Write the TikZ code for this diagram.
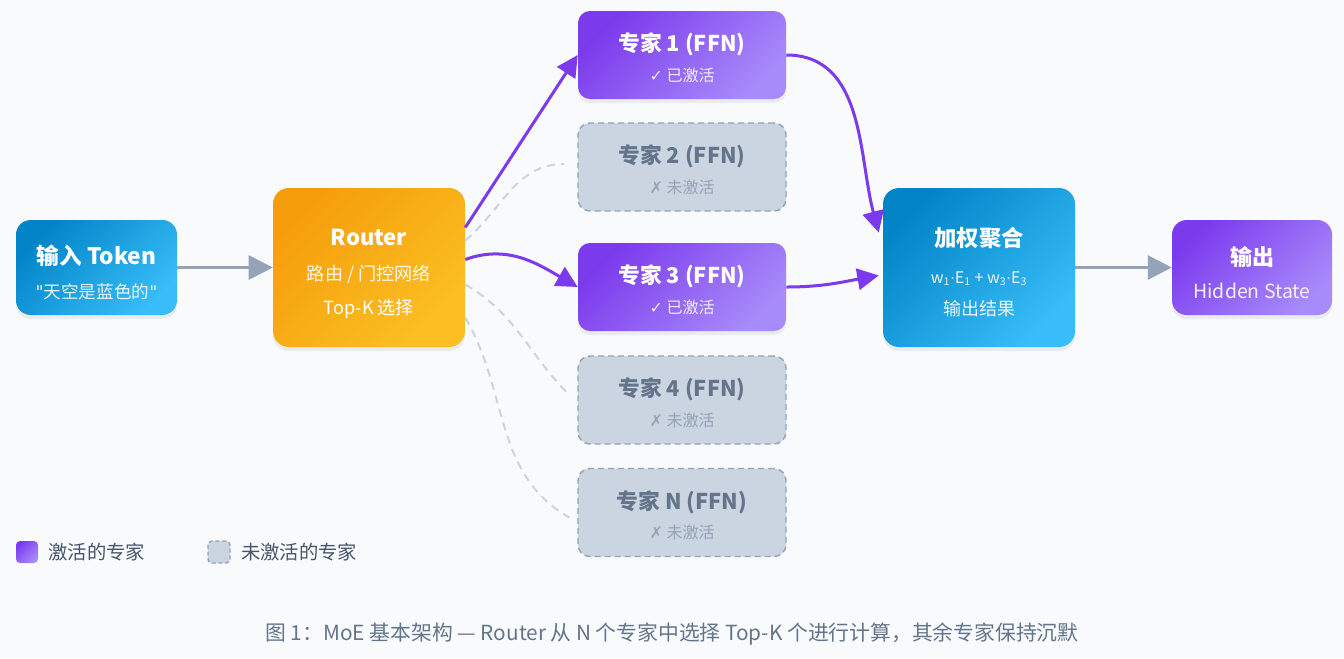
\documentclass[tikz,border=0pt]{standalone}
\usepackage{fontspec}
\setmainfont{Noto Sans CJK SC}[Ligatures=TeXOff]
\newfontfamily\symfont{DejaVu Sans}[Ligatures=TeXOff]
\usetikzlibrary{arrows.meta,shadows,calc,positioning}

\definecolor{fond}{HTML}{F8FAFC}
\definecolor{bleuA}{HTML}{0284C7}
\definecolor{bleuB}{HTML}{38BDF8}
\definecolor{orA}{HTML}{F59E0B}
\definecolor{orB}{HTML}{FBBF24}
\definecolor{violetA}{HTML}{7C3AED}
\definecolor{violetB}{HTML}{A78BFA}
\definecolor{gris}{HTML}{94A3B8}
\definecolor{grisclair}{HTML}{CBD5E1}
\definecolor{ardoise}{HTML}{64748B}
\definecolor{encre}{HTML}{475569}

\begin{document}
\begin{tikzpicture}[x=0.75pt, y=0.75pt]
			\tikzset{boite/.style={align=center, inner sep=0pt, text=white, drop shadow={opacity=0.12, shadow xshift=0pt, shadow yshift=-3pt}},
				actif/.style={boite, rounded corners=9pt, top color=violetA, bottom color=violetB, shading angle=45, minimum width=156pt, minimum height=66pt, font=\fontsize{16.3}{22}\selectfont\bfseries},
				inactif/.style={align=center, inner sep=0pt, rounded corners=9pt, fill=grisclair, draw=gris, line width=1.1pt, dash pattern=on 4.5pt off 3pt, minimum width=156pt, minimum height=66pt, text=ardoise, font=\fontsize{16.3}{22}\selectfont\bfseries},
				fleche/.style={-{Triangle[length=16pt, width=16pt]}, line width=2.25pt, violetA},
				gfleche/.style={-{Triangle[length=18pt, width=18pt]}, line width=2.25pt, gris},
				lien/.style={line width=1.5pt, grisclair, dash pattern=on 6pt off 4.5pt},
				legende/.style={anchor=west, inner sep=0pt, text=encre, font=\fontsize{14.5}{17}\selectfont}};

			\useasboundingbox[fill=fond] (0,0) rectangle (1344,-658);

			\node[boite, rounded corners=11pt, top color=bleuA, bottom color=bleuB, shading angle=45, minimum width=120.75pt, minimum height=71.25pt, font=\fontsize{17}{25}\selectfont\bfseries] (token) at (96.5,-267.5) {\rule{0pt}{22pt}输入 Token\\{\mdseries\fontsize{13.2}{15}\selectfont\color{white!92!bleuA}{\symfont"}天空是蓝色的{\symfont"}}};
			\node[boite, rounded corners=12pt, top color=orA, bottom color=orB, shading angle=45, minimum width=144pt, minimum height=119.25pt, font=\fontsize{16.5}{26}\selectfont\bfseries] (router) at (369,-267.5) {\rule{0pt}{22pt}Router\\{\mdseries\fontsize{13.6}{15}\selectfont\color{white!92!orA}路由 / 门控网络}\\{\mdseries\fontsize{13.6}{15}\selectfont Top-K 选择}};

			\node[actif  ] (e1) at (682,  -55) {\rule{0pt}{18pt}专家 1 (FFN)\\{\mdseries\fontsize{12}{12}\selectfont\color{white!90!violetA}{\symfont ✓} 已激活}};
			\node[inactif] (e2) at (682, -167) {\rule{0pt}{18pt}专家 2 (FFN)\\{\mdseries\fontsize{12}{12}\selectfont\color{gris}{\symfont ✗} 未激活}};
			\node[actif  ] (e3) at (682, -287) {\rule{0pt}{18pt}专家 3 (FFN)\\{\mdseries\fontsize{12}{12}\selectfont\color{white!90!violetA}{\symfont ✓} 已激活}};
			\node[inactif] (e4) at (682, -400) {\rule{0pt}{18pt}专家 4 (FFN)\\{\mdseries\fontsize{12}{12}\selectfont\color{gris}{\symfont ✗} 未激活}};
			\node[inactif] (eN) at (682, -512.5) {\rule{0pt}{18pt}专家 N (FFN)\\{\mdseries\fontsize{12}{12}\selectfont\color{gris}{\symfont ✗} 未激活}};

			\node[boite, rounded corners=12pt, top color=bleuA, bottom color=bleuB, shading angle=45, minimum width=144pt, minimum height=119.25pt, font=\fontsize{16.8}{24}\selectfont\bfseries] (agg) at (979,-267.5) {\rule{0pt}{21pt}加权聚合\\[4pt]{\mdseries\fontsize{12}{15}\selectfont\color{white!92!bleuA}w\textsubscript{1}{\symfont\fontsize{11}{15}\selectfont·}E\textsubscript{1} + w\textsubscript{3}{\symfont\fontsize{11}{15}\selectfont·}E\textsubscript{3}}\\{\mdseries\fontsize{13.5}{15}\selectfont\color{white!92!bleuA}输出结果}};
			\node[boite, rounded corners=11pt, top color=violetA, bottom color=violetB, shading angle=45, minimum width=120pt, minimum height=71.25pt, font=\fontsize{16.5}{25}\selectfont\bfseries] (sortie) at (1252,-267.5) {\rule{0pt}{22pt}输出\\{\mdseries\fontsize{14.6}{15}\selectfont\color{white!92!violetA}Hidden State}};

			\draw[gfleche] (token) to (router);
			\draw[gfleche] (agg) to (sortie);

			\draw[lien] ($(router.east)+(0,27)$) to[out=40, in=180] ($(e2.west)+(-13,3)$);
			\draw[lien] ($(router.east)+(0,-17)$) to[out=-30, in=135] ($(e4.west)+(-8,5)$);
			\draw[lien] ($(router.east)+(0,-50)$) to[out=-60, in=150] ($(eN.west)+(-8,-5)$);

			\draw[fleche] ($(router.east)+(0,40)$) to (e1.west);
			\draw[fleche] ($(router.east)+(0,8)$) to[out=20, in=150] (e3.west);
			\draw[fleche] (e1.east) to[out=0, in=105] ($(agg.west)+(-4,35)$);
			\draw[fleche] (e3.east) to[out=0, in=190] ($(agg.west)+(-4,-8)$);

			\node[inner sep=0pt, minimum size=16.5pt, rounded corners=3pt, top color=violetA, bottom color=violetB, shading angle=45] (lactif) at (27,-552) {};
			\node[legende, right=7.5pt of lactif] (tactif) {激活的专家};
			\node[inner sep=0pt, minimum size=16.5pt, rounded corners=3pt, fill=grisclair, draw=gris, line width=1.1pt, dash pattern=on 3pt off 2pt] (linactif) at (219,-552) {};
			\node[legende, right=7.5pt of linactif] (tinactif) {未激活的专家};

			\node[legende, anchor=center, text=ardoise, font=\fontsize{15.6}{18}\selectfont] (titre) at (672,-634) {图 1：MoE 基本架构 — Router 从 N 个专家中选择 Top-K 个进行计算，其余专家保持沉默};

		\end{tikzpicture}
\end{document}
